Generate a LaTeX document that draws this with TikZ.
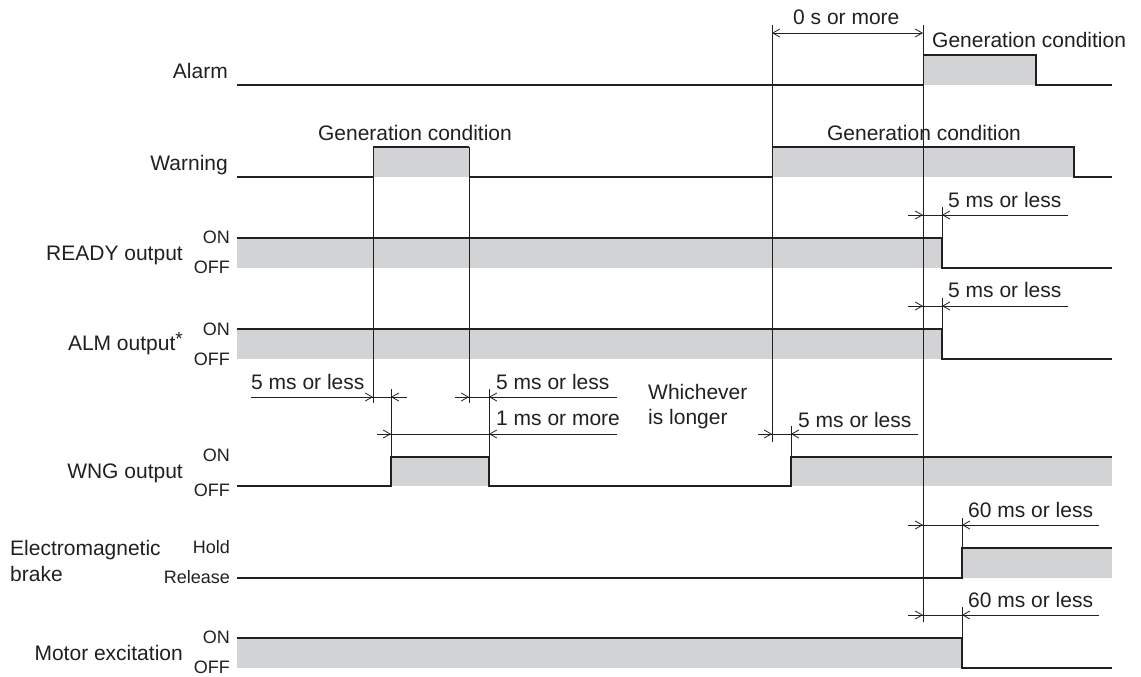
\documentclass[tikz,border=0pt]{standalone}
\usepackage{fontspec}
\setmainfont{Liberation Sans}
\usetikzlibrary{arrows.meta}
\definecolor{ink}{HTML}{231F20}
\definecolor{shade}{HTML}{D1D3D4}
\tikzset{
  wave/.style={draw=ink,line width=1.3pt,line join=miter},
  ext/.style={draw=ink,line width=0.9pt},
  dimline/.style={draw=ink,line width=0.9pt},
  dimtip/.style={draw=ink,line width=0.9pt,-{Straight Barb[length=7pt,width=8pt,line width=0.8pt]}},
  hi/.style={fill=shade},
  big/.style={font=\fontsize{21}{24}\selectfont,text=ink,inner sep=0pt},
  small/.style={font=\fontsize{18}{20}\selectfont,text=ink,inner sep=0pt}
}
\begin{document}
\begin{tikzpicture}[x=1pt,y=-1pt]
\useasboundingbox (0,0) rectangle (1141,677);

% ---------- gray areas ----------
\fill[hi] (923,55) rectangle (1036,85);
\fill[hi] (373,147) rectangle (469,177);
\fill[hi] (772,147) rectangle (1074,177);
\fill[hi] (237,238) rectangle (942,268);
\fill[hi] (237,329) rectangle (942,359);
\fill[hi] (391,457) rectangle (489,486);
\fill[hi] (791,457) rectangle (1112,486);
\fill[hi] (962,548) rectangle (1112,578);
\fill[hi] (237,638) rectangle (962,668);

% ---------- waveforms ----------
\draw[wave] (237,85) -- (923,85) (923,55) -- (1036,55) -- (1036,85) -- (1112,85);
\draw[wave] (237,177) -- (373,177) (373,147) -- (469,147) (469,177) -- (772,177)
            (772,147) -- (1074,147) -- (1074,177) -- (1112,177);
\draw[wave] (237,238) -- (942,238) -- (942,268) -- (1112,268);
\draw[wave] (237,329) -- (942,329) -- (942,359) -- (1112,359);
\draw[wave] (237,486) -- (391,486) -- (391,457) -- (489,457) -- (489,486)
            -- (791,486) -- (791,457) -- (1112,457);
\draw[wave] (237,578) -- (962,578) -- (962,548) -- (1112,548);
\draw[wave] (237,638) -- (962,638) -- (962,668) -- (1112,668);

% ---------- extension lines ----------
\draw[ext] (923,25) -- (923,622);
\draw[ext] (772,25) -- (772,442);
\draw[ext] (373,147) -- (373,403);
\draw[ext] (469,147) -- (469,403);
\draw[ext] (391,389) -- (391,457);
\draw[ext] (489,389) -- (489,457);
\draw[ext] (791,426) -- (791,457);
\draw[ext] (942,207) -- (942,238);
\draw[ext] (942,298) -- (942,329);
\draw[ext] (962,518) -- (962,548);
\draw[ext] (962,607) -- (962,638);

% ---------- dimension lines ----------
\draw[dimtip] (847,33) -- (772,33);
\draw[dimtip] (847,33) -- (923,33);

\draw[dimline] (908,215) -- (1068,215);
\draw[dimtip] (908,215) -- (923,215);
\draw[dimtip] (1068,215) -- (942,215);

\draw[dimline] (908,306) -- (1068,306);
\draw[dimtip] (908,306) -- (923,306);
\draw[dimtip] (1068,306) -- (942,306);

\draw[dimline] (251,397) -- (407,397);
\draw[dimtip] (251,397) -- (373,397);
\draw[dimtip] (407,397) -- (391,397);

\draw[dimline] (455,397) -- (617,397);
\draw[dimtip] (455,397) -- (469,397);
\draw[dimtip] (617,397) -- (489,397);

\draw[dimline] (377,434) -- (617,434);
\draw[dimtip] (377,434) -- (391,434);
\draw[dimtip] (617,434) -- (489,434);

\draw[dimline] (758,434) -- (918,434);
\draw[dimtip] (758,434) -- (772,434);
\draw[dimtip] (918,434) -- (791,434);

\draw[dimline] (908,525) -- (1099,525);
\draw[dimtip] (908,525) -- (923,525);
\draw[dimtip] (1099,525) -- (962,525);

\draw[dimline] (908,615) -- (1099,615);
\draw[dimtip] (908,615) -- (923,615);
\draw[dimtip] (1099,615) -- (962,615);

% ---------- signal names ----------
\node[big,anchor=base east] (alarm) at (228,78) {Alarm};
\node[big,anchor=base east] (warning) at (228,170) {Warning};
\node[big,anchor=base east] (ready) at (183,260) {READY output};
\node[big,anchor=base east] (alm) at (183,350) {ALM output\raisebox{0.45ex}{\fontsize{19}{19}\selectfont *}};
\node[big,anchor=base east] (wng) at (183,478) {WNG output};
\node[big,anchor=base west] (em1) at (10,555) {Electromagnetic};
\node[big,anchor=base west] (em2) at (10,581) {brake};
\node[big,anchor=base east] (motor) at (183,660) {Motor excitation};

% ---------- level names ----------
\node[small,anchor=base east] (readyon) at (230,243) {ON};
\node[small,anchor=base east] (readyoff) at (230,273) {OFF};
\node[small,anchor=base east] (almon) at (230,335) {ON};
\node[small,anchor=base east] (almoff) at (230,365) {OFF};
\node[small,anchor=base east] (wngon) at (230,461) {ON};
\node[small,anchor=base east] (wngoff) at (230,496) {OFF};
\node[small,anchor=base east] (hold) at (230,553) {Hold};
\node[small,anchor=base east] (release) at (230,583) {Release};
\node[small,anchor=base east] (moton) at (230,643) {ON};
\node[small,anchor=base east] (motoff) at (230,673) {OFF};

% ---------- annotations ----------
\node[big,anchor=base west] (zero) at (793,25) {0 s or more};
\node[big,anchor=base west] (gen1) at (932,48) {Generation condition};
\node[big,anchor=base] (gen2) at (415,140) {Generation condition};
\node[big,anchor=base] (gen3) at (924,140) {Generation condition};
\node[big,anchor=base west] (t1) at (948,207) {5 ms or less};
\node[big,anchor=base west] (t2) at (948,297) {5 ms or less};
\node[big,anchor=base west] (t3) at (251,389) {5 ms or less};
\node[big,anchor=base west] (t4) at (496,389) {5 ms or less};
\node[big,anchor=base west] (t5) at (496,425) {1 ms or more};
\node[big,anchor=base west] (which1) at (648,399) {Whichever};
\node[big,anchor=base west] (which2) at (648,424) {is longer};
\node[big,anchor=base west] (t6) at (798,427) {5 ms or less};
\node[big,anchor=base west] (t7) at (968,517) {60 ms or less};
\node[big,anchor=base west] (t8) at (968,607) {60 ms or less};
\end{tikzpicture}
\end{document}
